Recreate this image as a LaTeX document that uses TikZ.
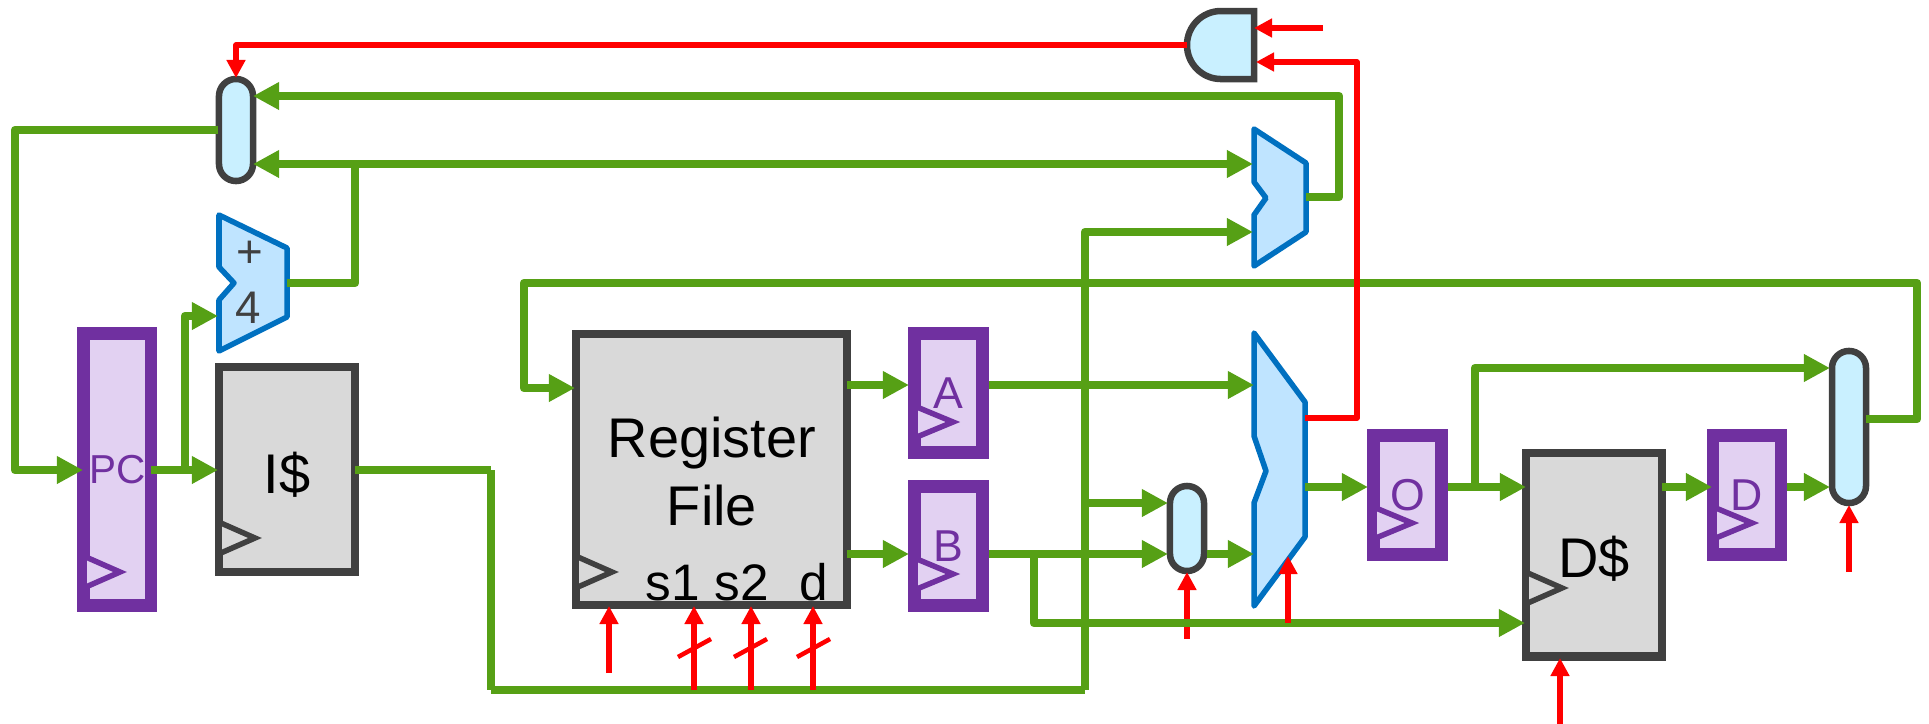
\documentclass[tikz,border=0pt]{standalone}
\usepackage{fontspec}
\setmainfont{Liberation Sans}
\usepackage{tkz-euclide}
\usetikzlibrary{arrows.meta}
\definecolor{wiregreen}{HTML}{56A015}
\definecolor{ctrlred}{HTML}{FF0000}
\definecolor{regpurple}{HTML}{7030A0}
\definecolor{reglight}{HTML}{E2D1F2}
\definecolor{blockgray}{HTML}{D9D9D9}
\definecolor{edgegray}{HTML}{404040}
\definecolor{aluedge}{HTML}{0070C0}
\definecolor{alufill}{HTML}{BFE4FF}
\definecolor{muxfill}{HTML}{C9F0FF}
\tikzset{
    regbox/.style={draw=regpurple,fill=reglight,line width=1.27mm,inner sep=0pt,outer sep=0pt,
        text=regpurple,font=\fontsize{12.7}{15}\selectfont},
    blockbox/.style={draw=edgegray,fill=blockgray,line width=0.85mm,inner sep=0pt,outer sep=0pt,
        text=black,font=\fontsize{15.9}{19}\selectfont},
    blocklabel/.style={inner sep=0pt,text=black,align=center,font=\fontsize{15.9}{19.3}\selectfont},
    muxbox/.style={draw=edgegray,fill=muxfill,line width=0.65mm,inner sep=0pt,outer sep=0pt,
        rounded corners=1.7mm,minimum width=3.4mm},
    alushape/.style={draw=aluedge,fill=alufill,line width=0.55mm,line join=round},
    portlabel/.style={anchor=base,inner sep=0pt,text=black,font=\fontsize{14.6}{17}\selectfont},
    addlabel/.style={inner sep=0pt,text=edgegray,font=\fontsize{13}{15}\selectfont},
    wire/.style={draw=wiregreen,line width=0.85mm,line join=round},
    wiretip/.style={-{Triangle[length=2.6mm,width=2.6mm]}},
    wireboth/.style={{Triangle[length=2.6mm,width=2.6mm]}-{Triangle[length=2.6mm,width=2.6mm]}},
    ctrl/.style={draw=ctrlred,line width=0.55mm,line join=round},
    ctrltip/.style={-{Triangle[length=1.8mm,width=1.8mm]}},
    ctrlslash/.style={draw=ctrlred,line width=0.45mm}
}
\begin{document}
\begin{tikzpicture}[x=0.01cm,y=-0.01cm]
            \useasboundingbox (0,0) rectangle (1929,724);
            \node[regbox,minimum width=6.75mm,minimum height=27.2mm,font=\fontsize{11.5}{13}\selectfont] (PC) at (117.25,469.5) {PC};
            \node[regbox,minimum width=6.8mm,minimum height=11.9mm] (RegA) at (948.5,393) {A};
            \node[regbox,minimum width=6.8mm,minimum height=11.9mm] (RegB) at (948.5,546) {B};
            \node[regbox,minimum width=6.8mm,minimum height=11.9mm] (RegO) at (1407.5,495) {O};
            \node[regbox,minimum width=6.8mm,minimum height=11.9mm] (RegD) at (1747,495) {D};
            \node[blockbox,minimum width=13.6mm,minimum height=20.5mm,text height=4.7mm,text depth=0pt] (Icache) at (287,469.5) {I\$};
            \node[blockbox,minimum width=27.1mm,minimum height=27.1mm] (RegFile) at (711.5,469.5) {};
            \node[blocklabel] (LabelFile) at (712,471.5) {Register\\File};
            \node[blockbox,minimum width=13.6mm,minimum height=20.35mm,text height=4.5mm,text depth=0pt] (Dcache) at (1594,554.75) {D\$};
            \node[muxbox,minimum height=10.2mm] (PcMux) at (236,130) {};
            \node[muxbox,minimum height=8.5mm] (OpMux) at (1187,528.5) {};
            \node[muxbox,minimum height=15.2mm] (WbMux) at (1849,427) {};
            \node[portlabel] (LabelSa) at (673,600) {s1};
            \node[portlabel] (LabelSb) at (742,600) {s2};
            \node[portlabel] (LabelD) at (814,600) {d};
            \foreach \ckx/\cky/\ckd/\ckfill/\ckedge in {87/572/33/reglight/regpurple,918/422/35/reglight/regpurple,918/574/35/reglight/regpurple,1377/523/35/reglight/regpurple,1717/523/35/reglight/regpurple,222/538/33/blockgray/edgegray,579/572/33/blockgray/edgegray,1529/588/33/blockgray/edgegray}{
                \fill[\ckfill] (\ckx,\cky-14.5) -- (\ckx+\ckd,\cky) -- (\ckx,\cky+14.5) -- cycle;
                \draw[\ckedge,line width=0.55mm] (\ckx,\cky-14.5) -- (\ckx+\ckd,\cky) -- (\ckx,\cky+14.5);
            }
            \tkzDefPoint(219,215){addA}
            \tkzDefPoint(287,248){addB}
            \tkzDefPoint(287,317){addC}
            \tkzDefPoint(219,351){addD}
            \tkzDefPoint(219,300){addE}
            \tkzDefPoint(234,283){addF}
            \tkzDefPoint(219,267){addG}
            \tkzDrawPolygon[alushape](addA,addB,addC,addD,addE,addF,addG)
            \node[addlabel] (LabelPlus) at (250,254) {+};
            \node[addlabel] (LabelFour) at (248,308) {4};
            \tkzDefPoint(1254,129){jmpA}
            \tkzDefPoint(1306,163){jmpB}
            \tkzDefPoint(1306,232){jmpC}
            \tkzDefPoint(1254,266){jmpD}
            \tkzDefPoint(1254,215){jmpE}
            \tkzDefPoint(1266,198){jmpF}
            \tkzDefPoint(1254,182){jmpG}
            \tkzDrawPolygon[alushape](jmpA,jmpB,jmpC,jmpD,jmpE,jmpF,jmpG)
            \tkzDefPoint(1254,333){aluA}
            \tkzDefPoint(1305,402){aluB}
            \tkzDefPoint(1305,537){aluC}
            \tkzDefPoint(1254,606){aluD}
            \tkzDefPoint(1254,503){aluE}
            \tkzDefPoint(1266,471){aluF}
            \tkzDefPoint(1254,436){aluG}
            \tkzDrawPolygon[alushape](aluA,aluB,aluC,aluD,aluE,aluF,aluG)
            \draw[draw=edgegray,fill=muxfill,line width=0.65mm] (1254,11) -- (1221,11) arc[start angle=90,end angle=270,radius=3.4mm] -- (1254,79) -- cycle;
            \tkzDefPoint(1254,28){andInA}
            \tkzDefPoint(1256,62){andInB}
            \tkzDefPoint(1187,45){andOut}
            \tkzDefPoint(1323,28){andFree}
            \tkzDefPoint(236,45){brTurn}
            \tkzDefPoint(236,78){brIn}
            \tkzDefPoint(1357,62){brUp}
            \tkzDefPoint(1357,418){brLow}
            \tkzDefPoint(1305,418){brOut}
            \tkzDefPoint(1187,639){opSel}
            \tkzDefPoint(1187,572){opSelIn}
            \draw[ctrl,ctrltip] (opSel) -- (opSelIn);
            \tkzDefPoint(218,130){pcMuxOut}
            \tkzDefPoint(15,130){fetchTop}
            \tkzDefPoint(15,470){fetchLow}
            \tkzDefPoint(83,470){pcIn}
            \tkzDefPoint(151,470){pcOut}
            \tkzDefPoint(218,470){icacheIn}
            \tkzDefPoint(185,470){pcTap}
            \tkzDefPoint(185,316){pcRise}
            \tkzDefPoint(218,316){addIn}
            \tkzDefPoint(287,283){addOut}
            \tkzDefPoint(355,283){addTurn}
            \tkzDefPoint(355,164){addTap}
            \tkzDefPoint(253,164){pcMuxLow}
            \tkzDefPoint(1253,164){jmpInA}
            \tkzDefPoint(253,96){pcMuxHigh}
            \tkzDefPoint(1339,96){jmpBack}
            \tkzDefPoint(1339,197){jmpTurn}
            \tkzDefPoint(1306,197){jmpOut}
            \tkzDefPoint(355,470){icacheOut}
            \tkzDefPoint(491,470){dropTop}
            \tkzDefPoint(491,690){dropLow}
            \tkzDefPoint(1085,690){riseLow}
            \tkzDefPoint(1085,232){riseTop}
            \tkzDefPoint(1085,503){riseTap}
            \tkzDefPoint(1253,232){jmpInB}
            \tkzDefPoint(1168,503){opInA}
            \tkzDefPoint(1168,554){opInB}
            \tkzDefPoint(1207,554){opOut}
            \tkzDefPoint(1254,554){aluInB}
            \tkzDefPoint(989,385){regAOut}
            \tkzDefPoint(1254,385){aluInA}
            \tkzDefPoint(847,385){rfOutA}
            \tkzDefPoint(909,385){regAIn}
            \tkzDefPoint(847,554){rfOutB}
            \tkzDefPoint(909,554){regBIn}
            \tkzDefPoint(989,554){regBOut}
            \tkzDefPoint(1034,554){regBTap}
            \tkzDefPoint(1034,623){regBTurn}
            \tkzDefPoint(1525,623){dcacheInB}
            \tkzDefPoint(1305,487){aluOut}
            \tkzDefPoint(1368,487){regOIn}
            \tkzDefPoint(1448,487){regOOut}
            \tkzDefPoint(1526,487){dcacheInA}
            \tkzDefPoint(1475,487){regOTap}
            \tkzDefPoint(1475,368){regOTurn}
            \tkzDefPoint(1830,368){wbInA}
            \tkzDefPoint(1662,487){dcacheOut}
            \tkzDefPoint(1712,487){regDIn}
            \tkzDefPoint(1787,487){regDOut}
            \tkzDefPoint(1830,487){wbInB}
            \tkzDefPoint(1866,419){wbOut}
            \tkzDefPoint(1917,419){wbTurn}
            \tkzDefPoint(1917,283){wbTop}
            \tkzDefPoint(524,283){wbBack}
            \tkzDefPoint(524,388){wbLow}
            \tkzDefPoint(575,388){rfIn}
            \draw[wire,wiretip] (pcMuxOut) -- (fetchTop) -- (fetchLow) -- (pcIn);
            \draw[wire,wiretip] (pcOut) -- (icacheIn);
            \draw[wire,wiretip] (pcTap) -- (pcRise) -- (addIn);
            \draw[wire] (addOut) -- (addTurn) -- (addTap);
            \draw[wire,wireboth] (pcMuxLow) -- (jmpInA);
            \draw[wire,wiretip] (jmpOut) -- (jmpTurn) -- (jmpBack) -- (pcMuxHigh);
            \draw[wire] (icacheOut) -- (dropTop);
            \draw[wire] (dropTop) -- (dropLow);
            \draw[wire] (dropLow) -- (riseLow);
            \draw[wire,wiretip] (riseLow) -- (riseTop) -- (jmpInB);
            \draw[wire,wiretip] (riseTap) -- (opInA);
            \draw[wire,wiretip] (regAOut) -- (aluInA);
            \draw[wire,wiretip] (rfOutA) -- (regAIn);
            \draw[wire,wiretip] (rfOutB) -- (regBIn);
            \draw[wire,wiretip] (regBOut) -- (opInB);
            \draw[wire,wiretip] (opOut) -- (aluInB);
            \draw[wire,wiretip] (regBTap) -- (regBTurn) -- (dcacheInB);
            \draw[wire,wiretip] (aluOut) -- (regOIn);
            \draw[wire,wiretip] (regOOut) -- (dcacheInA);
            \draw[wire,wiretip] (regOTap) -- (regOTurn) -- (wbInA);
            \draw[wire,wiretip] (dcacheOut) -- (regDIn);
            \draw[wire,wiretip] (regDOut) -- (wbInB);
            \draw[wire,wiretip] (wbOut) -- (wbTurn) -- (wbTop) -- (wbBack) -- (wbLow) -- (rfIn);
            \draw[ctrl,ctrltip] (andOut) -- (brTurn) -- (brIn);
            \draw[ctrl,ctrltip] (andFree) -- (andInA);
            \draw[ctrl,ctrltip] (brOut) -- (brLow) -- (brUp) -- (andInB);
            \tkzDefPoint(1288,623){aluSel}
            \tkzDefPoint(1288,556){aluSelIn}
            \draw[ctrl,ctrltip] (aluSel) -- (aluSelIn);
            \tkzDefPoint(1560,724){dcacheSel}
            \tkzDefPoint(1560,658){dcacheSelIn}
            \draw[ctrl,ctrltip] (dcacheSel) -- (dcacheSelIn);
            \tkzDefPoint(1849,572){wbSel}
            \tkzDefPoint(1849,505){wbSelIn}
            \draw[ctrl,ctrltip] (wbSel) -- (wbSelIn);
            \tkzDefPoint(609,673){rfClk}
            \tkzDefPoint(609,606){rfClkIn}
            \draw[ctrl,ctrltip] (rfClk) -- (rfClkIn);
            \tkzDefPoint(694,690){selA}
            \tkzDefPoint(694,606){selAIn}
            \draw[ctrl,ctrltip] (selA) -- (selAIn);
            \tkzDefPoint(751,690){selB}
            \tkzDefPoint(751,606){selBIn}
            \draw[ctrl,ctrltip] (selB) -- (selBIn);
            \tkzDefPoint(813,690){selD}
            \tkzDefPoint(813,606){selDIn}
            \draw[ctrl,ctrltip] (selD) -- (selDIn);
            \foreach \slashx in {678,734,797}{
                \draw[ctrlslash] (\slashx,657) -- (\slashx+33,639);
            }
        \end{tikzpicture}
\end{document}
